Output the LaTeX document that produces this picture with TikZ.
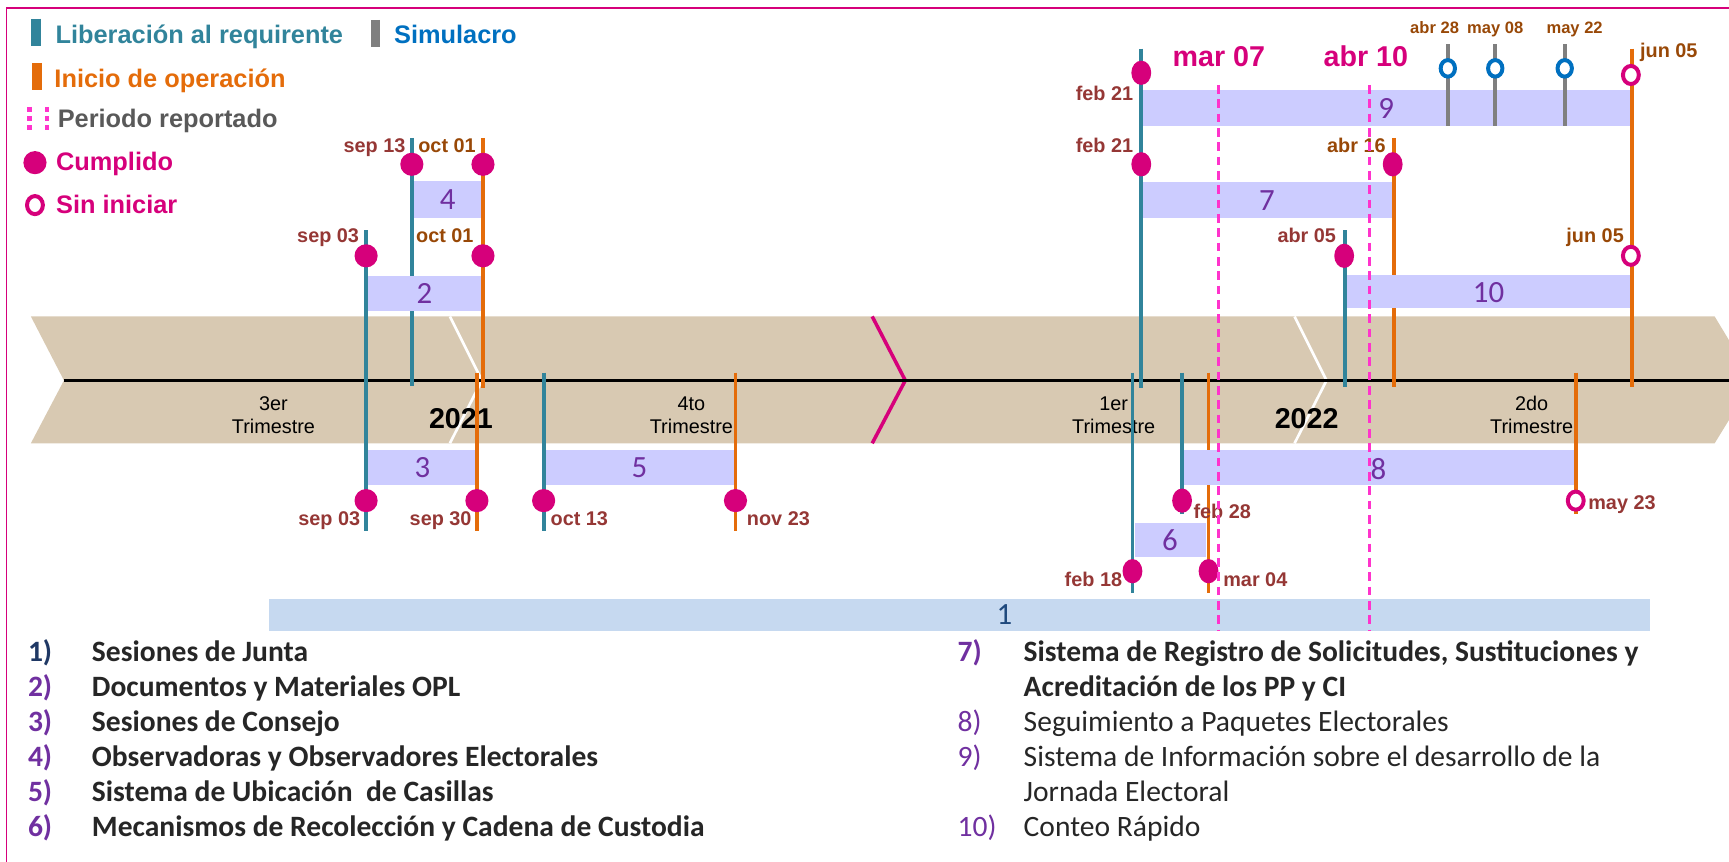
\documentclass[tikz,border=0pt]{standalone}
\usepackage{fontspec}
\setmainfont{Liberation Sans}
\newfontfamily\calibri{Carlito}
\usetikzlibrary{shapes.geometric}

\definecolor{verdeazul}{HTML}{31849B}
\definecolor{naranja}{HTML}{E46C0A}
\definecolor{gris}{HTML}{7F7F7F}
\definecolor{grisosc}{HTML}{595959}
\definecolor{azul}{HTML}{0070C0}
\definecolor{fucsia}{HTML}{D6007B}
\definecolor{rosa}{HTML}{FF33CC}
\definecolor{lila}{HTML}{CCCCFF}
\definecolor{celeste}{HTML}{C6D9F0}
\definecolor{arena}{RGB}{216,201,178}
\definecolor{guinda}{HTML}{953735}
\definecolor{cafe}{HTML}{984807}
\definecolor{morado}{HTML}{7030A0}
\definecolor{marino}{HTML}{1F3864}
\definecolor{azulbarra}{HTML}{1F497D}
\definecolor{texto}{HTML}{262626}

\tikzset{
    liberacion/.style={line width=1.75pt, verdeazul},
    inicio/.style={line width=1.75pt, naranja},
    simulacro/.style={line width=1.75pt, gris},
    cumplido/.style={ellipse, fill=fucsia, inner sep=0pt, minimum width=10.5pt, minimum height=10.5pt},
    cumplidoalto/.style={cumplido, minimum width=9pt, minimum height=11pt},
    sininiciar/.style={ellipse, draw=fucsia, fill=white, line width=1.8pt, inner sep=0pt, minimum width=7.2pt, minimum height=8.2pt},
    simcirc/.style={sininiciar, draw=azul, minimum width=6.5pt, minimum height=7.5pt},
    barra/.style={fill=lila},
    numero/.style={text=morado, inner sep=0pt, font=\calibri\fontsize{14}{16}\selectfont},
    fecha/.style={text=guinda, inner sep=0pt, font=\bfseries\fontsize{9}{10}\selectfont},
    fechaop/.style={fecha, text=cafe},
    fechasim/.style={fechaop, font=\bfseries\fontsize{7.5}{9}\selectfont},
    corte/.style={text=fucsia, inner sep=0pt, font=\bfseries\fontsize{13}{15}\selectfont},
    trim/.style={inner sep=0pt, align=center, font=\fontsize{9}{10.5}\selectfont},
    anio/.style={inner sep=0pt, font=\bfseries\fontsize{13}{15}\selectfont},
    leyenda/.style={anchor=base west, inner sep=0pt, font=\bfseries\fontsize{11.5}{13}\selectfont},
    item/.style={anchor=base west, inner sep=0pt, text=texto, font=\calibri\bfseries\fontsize{13.4}{15}\selectfont},
    itemreg/.style={item, font=\calibri\fontsize{13.4}{15}\selectfont},
    periodo/.style={rosa, line width=1.2pt, dash pattern=on 4pt off 2.5pt}
}

\begin{document}
\begin{tikzpicture}[x=0.5pt, y=-0.5pt]

    \useasboundingbox (0,0) rectangle (1568,781);
    \draw [fucsia, line width=0.8pt] (6,7) rectangle (1650,840);

    % leyenda
    \draw [verdeazul, line width=4.5pt] (32.5,17) -- (32.5,42);
    \node [leyenda, text=verdeazul] (lib) at (50,39) {Liberación al requirente};
    \draw [gris, line width=4.5pt] (340.5,18) -- (340.5,43);
    \node [leyenda, text=azul] (sim) at (357,39) {Simulacro};
    \draw [naranja, line width=4.5pt] (33.5,57) -- (33.5,82);
    \node [leyenda, text=naranja] (ini) at (49,79) {Inicio de operación};
    \draw [rosa, line width=2.2pt, dash pattern=on 2.2pt off 2pt] (26.7,97) -- (26.7,118);
    \draw [rosa, line width=2.2pt, dash pattern=on 2.2pt off 2pt] (42.6,97) -- (42.6,118);
    \node [leyenda, text=grisosc] (per) at (52,116) {Periodo reportado};
    \node [cumplido] (lc) at (31.7,147.5) {};
    \node [leyenda, text=fucsia] (cum) at (50.5,155) {Cumplido};
    \node [sininiciar] (ls) at (31.7,186) {};
    \node [leyenda, text=fucsia] (sin) at (50.5,194) {Sin iniciar};

    % banda de trimestres
    \fill [arena] (28,287) -- (1555,287) -- (1590,345) -- (1555,402)
        -- (28,402) -- (58,345) -- cycle;
    \draw [white, line width=1.2pt] (408,287) -- (437,345) -- (408,402);
    \draw [white, line width=1.2pt] (1174,287) -- (1203,345) -- (1174,402);
    \draw [fucsia, line width=1.6pt] (791,287) -- (821,345) -- (791,402);
    \draw [black, line width=1.2pt] (58,345) -- (1568,345);

    \node [trim, anchor=base] (t3) at (248,393) {3er\\Trimestre};
    \node [trim, anchor=base] (t4) at (627,393) {4to\\Trimestre};
    \node [trim, anchor=base] (t1) at (1010,393) {1er\\Trimestre};
    \node [trim, anchor=base] (t2) at (1389,393) {2do\\Trimestre};
    \node [anio, anchor=base] (a21) at (418,389) {2021};
    \node [anio, anchor=base] (a22) at (1185,389) {2022};

    % hitos
    \draw [liberacion] (332,209) -- (332,482);
    \draw [liberacion] (373.5,125) -- (373.5,350);
    \draw [inicio] (438,125) -- (438,352);
    \draw [inicio] (432.5,338) -- (432.5,482);
    \draw [liberacion] (493,338) -- (493,482);
    \draw [inicio] (667,338) -- (667,482);
    \draw [liberacion] (1035,44) -- (1035,352);
    \draw [liberacion] (1220,209) -- (1220,351);
    \draw [inicio] (1264,125) -- (1264,351);
    \draw [inicio] (1480,44) -- (1480,351);
    \draw [liberacion] (1027,338) -- (1027,538);
    \draw [liberacion] (1072,338) -- (1072,466);
    \draw [inicio] (1096,338) -- (1096,538);
    \draw [inicio] (1429,338) -- (1429,466);

    % barras
    \fill [celeste] (244,543) rectangle (1496,572);
    \node [numero, text=azulbarra] (n1) at (911,557) {1};
    \fill [barra] (334,250) rectangle (436,282);
    \node [numero] (n2) at (385,266) {2};
    \fill [barra] (334,408) rectangle (431,440);
    \node [numero] (n3) at (383,424) {3};
    \fill [barra] (375,164) rectangle (436,198);
    \node [numero] (n4) at (406,181) {4};
    \fill [barra] (495,408) rectangle (666,440);
    \node [numero] (n5) at (580,424) {5};
    \fill [barra] (1029,474) rectangle (1094,505);
    \node [numero] (n6) at (1061,490) {6};
    \fill [barra] (1037,165) rectangle (1262,198);
    \node [numero] (n7) at (1149,182) {7};
    \fill [barra] (1074,408) rectangle (1427,440);
    \node [numero] (n8) at (1250,425) {8};
    \fill [barra] (1037,82) rectangle (1478,114);
    \node [numero] (n9) at (1257,98) {9};
    \fill [barra] (1222,249) rectangle (1478,279);
    \node [numero] (n10) at (1350,265) {10};

    % simulacros
    \draw [simulacro] (1313,40) -- (1313,114);
    \draw [simulacro] (1356,40) -- (1356,114);
    \draw [simulacro] (1419,40) -- (1419,114);
    \node [simcirc] (s1) at (1313,62) {};
    \node [simcirc] (s2) at (1356,62) {};
    \node [simcirc] (s3) at (1419,62) {};
    \node [fechasim, anchor=base] at (1301,30) {abr 28};
    \node [fechasim, anchor=base] at (1356,30) {may 08};
    \node [fechasim, anchor=base] at (1428,30) {may 22};

    % cumplidos y sin iniciar
    \node [cumplido] (c4a) at (373.5,149) {};
    \node [cumplido] (c4b) at (438,149) {};
    \node [cumplido] (c2a) at (332,232) {};
    \node [cumplido] (c2b) at (438,232) {};
    \node [cumplido] (c3a) at (332,454) {};
    \node [cumplido] (c3b) at (432.5,454) {};
    \node [cumplido] (c5a) at (493,454) {};
    \node [cumplido] (c5b) at (667,454) {};
    \node [cumplidoalto] (c9a) at (1035,66) {};
    \node [cumplidoalto] (c7a) at (1035,149) {};
    \node [cumplidoalto] (c7b) at (1263,149) {};
    \node [cumplidoalto] (c10a) at (1219,232) {};
    \node [cumplidoalto] (c8a) at (1072,454) {};
    \node [cumplidoalto] (c6a) at (1027,518) {};
    \node [cumplidoalto] (c6b) at (1096,518) {};
    \node [sininiciar] (c9b) at (1479,68) {};
    \node [sininiciar] (c10b) at (1479,232) {};
    \node [sininiciar] (c8b) at (1429,454) {};

    % fechas
    \node [fecha, anchor=base east] at (368,138) {sep 13};
    \node [fechaop, anchor=base west] at (379,138) {oct 01};
    \node [fecha, anchor=base east] at (326,220) {sep 03};
    \node [fechaop, anchor=base west] at (377,220) {oct 01};
    \node [fecha, anchor=base east] at (327,477) {sep 03};
    \node [fecha, anchor=base east] at (428,477) {sep 30};
    \node [fecha, anchor=base west] at (499,477) {oct 13};
    \node [fecha, anchor=base west] at (677,477) {nov 23};
    \node [fecha, anchor=base east] at (1028,91) {feb 21};
    \node [fecha, anchor=base east] at (1028,138) {feb 21};
    \node [fechaop, anchor=base east] at (1257,138) {abr 16};
    \node [fecha, anchor=base east] at (1212,220) {abr 05};
    \node [fechaop, anchor=base west] at (1487,52) {jun 05};
    \node [fechaop, anchor=base east] at (1473,220) {jun 05};
    \node [fecha, anchor=base west] at (1082,470) {feb 28};
    \node [fecha, anchor=base west] at (1440,462) {may 23};
    \node [fecha, anchor=base east] at (1018,532) {feb 18};
    \node [fecha, anchor=base west] at (1109,532) {mar 04};

    % periodo reportado
    \node [corte, anchor=base west] (m07) at (1063,60) {mar 07};
    \node [corte, anchor=base west] (a10) at (1200,60) {abr 10};
    \draw [periodo] (1105,77) -- (1105,572);
    \draw [periodo] (1242,77) -- (1242,572);

    % lista de actividades
    \node [item, text=marino] at (25,600) {1)};
    \node [item] at (83,600) {Sesiones de Junta};
    \node [item, text=morado] at (25,631.8) {2)};
    \node [item] at (83,631.8) {Documentos y Materiales OPL};
    \node [item, text=morado] at (25,663.6) {3)};
    \node [item] at (83,663.6) {Sesiones de Consejo};
    \node [item, text=morado] at (25,695.4) {4)};
    \node [item] at (83,695.4) {Observadoras y Observadores Electorales};
    \node [item, text=morado] at (25,727.2) {5)};
    \node [item] at (83,727.2) {Sistema de Ubicación\ \ de Casillas};
    \node [item, text=morado] at (25,759) {6)};
    \node [item] at (83,759) {Mecanismos de Recolección y Cadena de Custodia};

    \node [item, text=morado] at (868,600) {7)};
    \node [item] at (928,600) {Sistema de Registro de Solicitudes, Sustituciones y};
    \node [item] at (928,631.8) {Acreditación de los PP y CI};
    \node [itemreg, text=morado] at (868,663.6) {8)};
    \node [itemreg] at (928,663.6) {Seguimiento a Paquetes Electorales};
    \node [itemreg, text=morado] at (868,695.4) {9)};
    \node [itemreg] at (928,695.4) {Sistema de Información sobre el desarrollo de la};
    \node [itemreg] at (928,727.2) {Jornada Electoral};
    \node [itemreg, text=morado] at (868,759) {10)};
    \node [itemreg] at (928,759) {Conteo Rápido};

\end{tikzpicture}
\end{document}
